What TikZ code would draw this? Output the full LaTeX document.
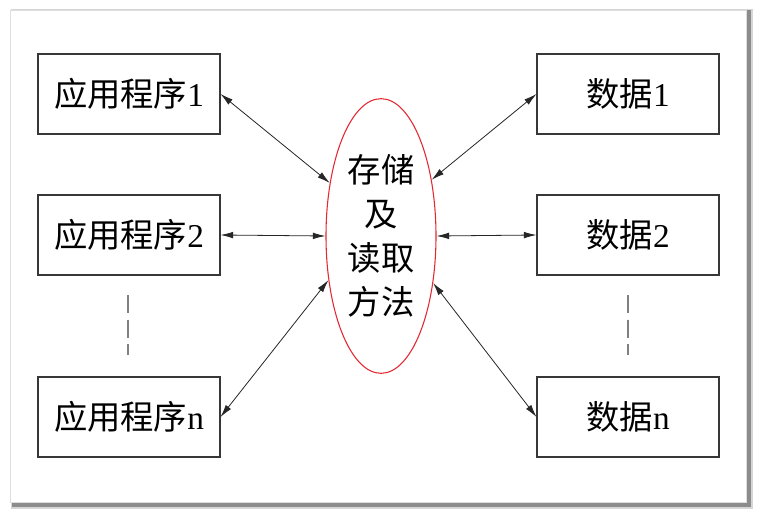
\documentclass[tikz,border=0pt]{standalone}
\usepackage{fontspec}
\setmainfont{Liberation Serif}
\newfontfamily\cjk{Noto Sans CJK SC}
\usetikzlibrary{arrows.meta, shapes.geometric, calc}
\definecolor{framegray}{RGB}{222,222,222}
\definecolor{shadowgray}{RGB}{120,120,120}
\definecolor{boxgray}{RGB}{55,55,55}
\definecolor{ovalred}{RGB}{228,40,50}

\tikzset{
  databox/.style={draw=boxgray, line width=0.8pt, minimum width=136.5pt, minimum height=60pt, inner sep=0pt, font=\fontsize{25}{30}\selectfont},
  method/.style={ellipse, draw=ovalred, line width=0.8pt, minimum width=82.5pt, minimum height=206pt, inner sep=0pt, align=center, font=\fontsize{25}{33}\selectfont\cjk},
  link/.style={{Latex[length=9.5pt,width=5pt]}-{Latex[length=9.5pt,width=5pt]}, line width=0.6pt, draw=black!85},
  gap/.style={draw=gray, line width=0.8pt, dash pattern=on 13.5pt off 5pt}
}

\begin{document}
\begin{tikzpicture}[x=0.75pt, y=-0.75pt]
\useasboundingbox (0,0) rectangle (761,516);
% Frame with shadow
\fill[shadowgray!30] (11,9) rectangle (753,509);
\fill[shadowgray!85] (12,10) rectangle (751,507);
\filldraw[fill=white, draw=framegray] (10,10) rectangle (746,502);

% Applications
\node[databox] (app1) at (129,94) {{\cjk 应用程序}1};
\node[databox] (app2) at (129,235) {{\cjk 应用程序}2};
\node[databox] (appn) at (129,417) {{\cjk 应用程序}n};

% Data
\node[databox] (data1) at (628,94) {{\cjk 数据}1};
\node[databox] (data2) at (628,235) {{\cjk 数据}2};
\node[databox] (datan) at (628,417) {{\cjk 数据}n};

% Storage and access method
\node[method] (store) at (381,236) {存储\\及\\读取\\方法};

% Links
\draw[link] (app1.east) -- (store.134);
\draw[link] (app2.east) -- (store.west);
\draw[link] (appn.east) -- (store.220);
\draw[link] (store.48) -- (data1.west);
\draw[link] (store.east) -- (data2.west);
\draw[link] (store.318) -- (datan.west);

% Omitted entries
\coordinate (gapL1) at (128,295);
\coordinate (gapL2) at (128,355);
\coordinate (gapR1) at (628,295);
\coordinate (gapR2) at (628,355);
\draw[gap] (gapL1) -- (gapL2);
\draw[gap] (gapR1) -- (gapR2);
\end{tikzpicture}
\end{document}
